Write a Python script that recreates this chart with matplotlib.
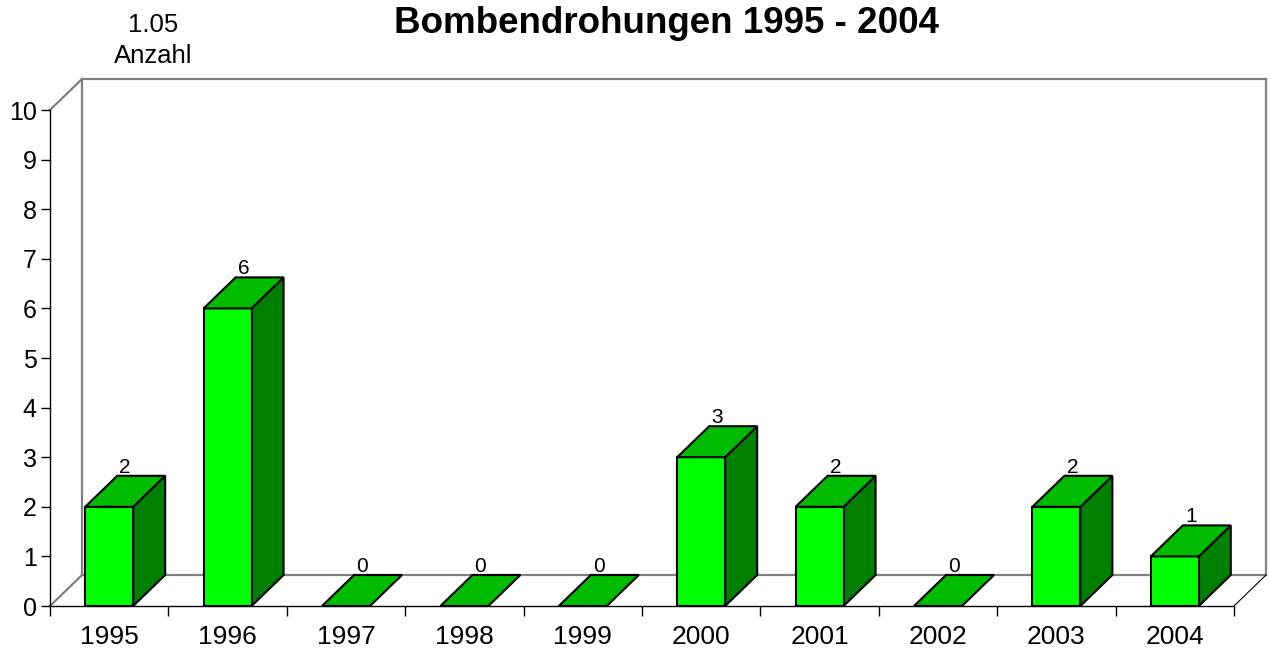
import matplotlib
matplotlib.use("Agg")
import matplotlib.pyplot as plt
from matplotlib.patches import Polygon

# Data
years = ["1995", "1996", "1997", "1998", "1999", "2000", "2001", "2002", "2003", "2004"]
counts = [2, 6, 0, 0, 0, 3, 2, 0, 2, 1]

plt.rcParams['font.family'] = ['Liberation Sans', 'DejaVu Sans']

fig = plt.figure(figsize=(12.7, 6.57), dpi=100)
ax = fig.add_axes([50 / 1270, 51 / 657, 1184 / 1270, 496 / 657])
ax.set_xlim(-0.5, len(years) - 0.5)
ax.set_ylim(0, 10)

# depth offset of the pseudo 3D effect (data units)
ddx = 32 / 118.4
ddy = 31 / 49.6
half = 0.2025

front_col = "#00FF00"
top_col = "#00BB00"
side_col = "#008000"
wall_col = "#808080"

x0, x1 = -0.5, len(years) - 0.5

# back wall / floor frame
wall = [
    ([x0, x0 + ddx], [0, ddy]),
    ([x0 + ddx, x1 + ddx], [ddy, ddy]),
    ([x0 + ddx, x0 + ddx], [ddy, 10 + ddy]),
    ([x0, x0 + ddx], [10, 10 + ddy]),
    ([x0 + ddx, x1 + ddx], [10 + ddy, 10 + ddy]),
    ([x1 + ddx, x1 + ddx], [ddy, 10 + ddy]),
]
for xs, ys in wall:
    ax.plot(xs, ys, color=wall_col, lw=1.6, clip_on=False, zorder=1)
ax.plot([x1, x1 + ddx], [0, ddy], color="black", lw=0.8, clip_on=False, zorder=1)
ax.plot([x0, x1], [0, 0], color="black", lw=1.0, clip_on=False, zorder=2)

for i, v in enumerate(counts):
    l, r = i - half, i + half
    if v > 0:
        ax.add_patch(Polygon([(r, 0), (r + ddx, ddy), (r + ddx, v + ddy), (r, v)],
                             closed=True, facecolor=side_col, edgecolor="black",
                             lw=1.5, clip_on=False, zorder=3))
        ax.add_patch(Polygon([(l, 0), (r, 0), (r, v), (l, v)],
                             closed=True, facecolor=front_col, edgecolor="black",
                             lw=1.5, clip_on=False, zorder=4))
    ax.add_patch(Polygon([(l, v), (r, v), (r + ddx, v + ddy), (l + ddx, v + ddy)],
                         closed=True, facecolor=top_col, edgecolor="black",
                         lw=1.5, clip_on=False, zorder=4))
    ax.text(i + ddx / 2, v + ddy - 0.02, str(v), ha="center", va="bottom",
            fontsize=15, zorder=5)

for s in ["top", "right", "bottom"]:
    ax.spines[s].set_visible(False)
ax.spines["left"].set_color("black")
ax.spines["left"].set_linewidth(1.0)

ax.set_yticks(range(0, 11))
ax.tick_params(axis="y", direction="out", length=6.5, width=1.0, labelsize=18, pad=3)
ax.set_xticks([i - 0.5 for i in range(len(years) + 1)])
ax.set_xticklabels([])
ax.set_xticks(range(len(years)), minor=True)
ax.set_xticklabels(years, minor=True)
ax.tick_params(axis="x", which="major", direction="out", length=7, width=1.0)
ax.tick_params(axis="x", which="minor", length=0, labelsize=19, pad=14)

fig.text(153 / 1270, 1 - 32 / 657, "1.05", ha="center", va="baseline", fontsize=18.5)
fig.text(153 / 1270, 1 - 63 / 657, "Anzahl", ha="center", va="baseline", fontsize=18.5)
fig.text(667 / 1270, 1 - 33 / 657, "Bombendrohungen 1995 - 2004", ha="center",
         va="baseline", fontsize=26.5, fontweight="bold")

fig.savefig("out.png", dpi=100)
